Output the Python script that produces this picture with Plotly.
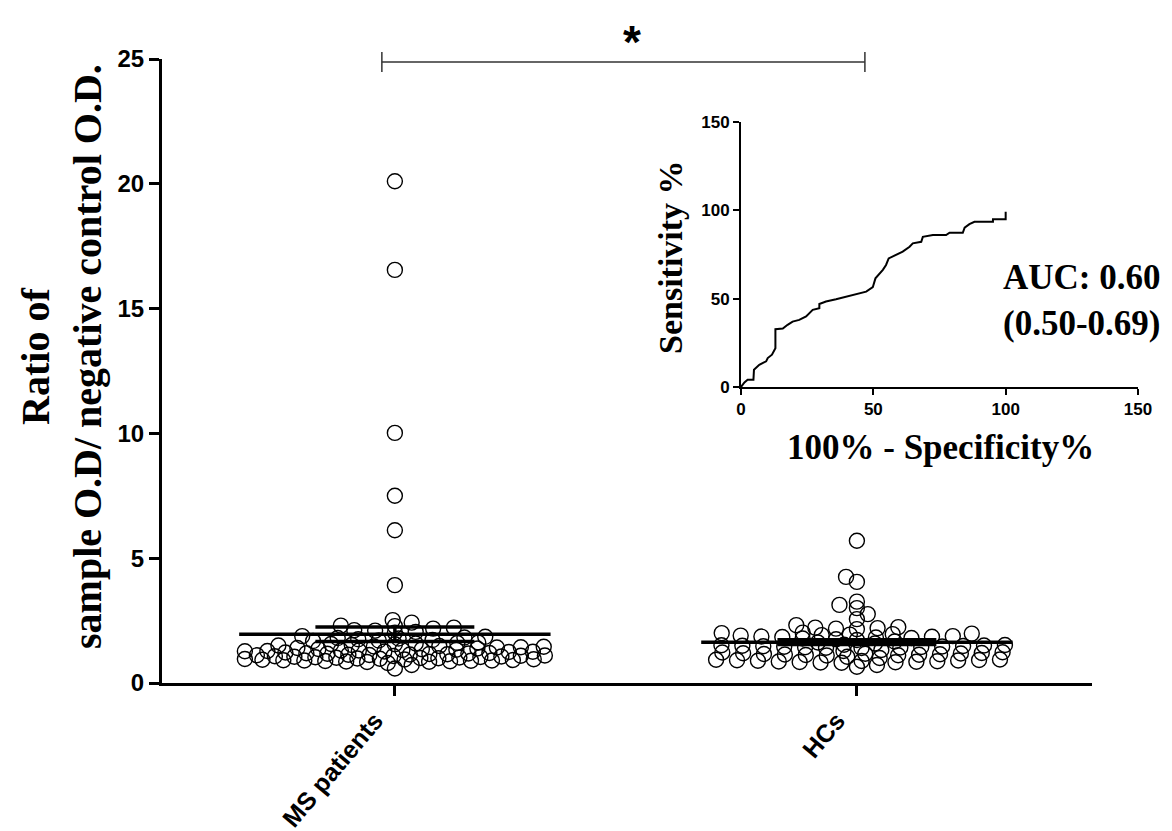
import numpy as np
import plotly.graph_objects as go

# ---------------- data ----------------
groups = ["MS patients", "HCs"]

ms_values = [20.1, 16.55, 10.02, 7.5, 6.12, 3.92, 2.52, 2.42,
             2.3, 2.28, 2.22, 2.18, 2.12, 2.1, 2.05, 2.02,
             1.88, 1.85, 1.82, 1.8, 1.78, 1.75, 1.72, 1.7, 1.68,
             1.62, 1.6, 1.58, 1.56, 1.55, 1.52, 1.5, 1.48, 1.46, 1.45, 1.43, 1.42, 1.4,
             1.38, 1.36, 1.35, 1.33, 1.32, 1.3, 1.3,
             1.28, 1.27, 1.26, 1.25, 1.24, 1.22, 1.2, 1.19, 1.18, 1.17, 1.16, 1.15,
             1.14, 1.13, 1.12, 1.11, 1.1, 1.09, 1.08, 1.07, 1.06, 1.05,
             1.04, 1.03, 1.02, 1.01, 1.0, 0.99, 0.98, 0.97, 0.96, 0.95, 0.94, 0.93,
             0.92, 0.91, 0.9, 0.9, 0.89, 0.88, 0.87, 0.86, 0.85, 0.84, 0.8, 0.72, 0.58]

hc_values = [5.7, 4.25, 4.05, 3.26, 3.13, 3.0, 2.76, 2.56, 2.32,
             2.24, 2.22, 2.2, 2.18, 2.16, 2.02, 2.0,
             1.98, 1.96, 1.94, 1.92, 1.9, 1.88, 1.86, 1.85, 1.84, 1.82,
             1.8, 1.78, 1.75, 1.72, 1.66, 1.62, 1.58,
             1.53, 1.52, 1.51, 1.5, 1.49, 1.48, 1.47, 1.46, 1.45, 1.44, 1.43, 1.42, 1.41, 1.4,
             1.32, 1.28, 1.22,
             1.23, 1.2, 1.19, 1.18, 1.17, 1.16, 1.15, 1.14, 1.13, 1.12, 1.11, 1.1,
             1.05, 1.0,
             0.94, 0.93, 0.92, 0.91, 0.9, 0.89, 0.88, 0.87, 0.86, 0.85, 0.84, 0.83, 0.82, 0.81,
             0.72, 0.65]

# ROC curve (100% - Specificity%, Sensitivity%)
roc_fpr = [0, 1.3, 2.5, 4.7, 4.9, 6.9, 9.5, 10.1, 11.7, 13.0, 13.0, 15.8, 17.6, 19.5, 22.0,
           24.6, 27.1, 29.6, 29.6, 32.1, 35.9, 39.7, 43.5, 47.3, 49.8, 50.8, 53.6, 54.8,
           55.8, 58.6, 61.1, 63.7, 64.9, 68.1, 68.7, 72.5, 77.5, 78.8, 83.8, 84.5, 86.3,
           88.2, 95.2, 95.2, 100, 100]
roc_tpr = [0, 2.6, 4.1, 4.1, 9.8, 12.6, 14.5, 16.4, 18.3, 22.0, 32.7, 33.1, 35.2, 37.0, 38.0,
           39.9, 43.7, 44.6, 47.0, 48.4, 49.7, 51.2, 52.7, 54.0, 56.5, 61.5, 66.3, 69.1,
           72.8, 74.7, 76.6, 79.4, 81.3, 82.2, 85.0, 86.0, 86.0, 87.3, 87.3, 90.2, 92.2,
           93.5, 93.5, 94.9, 94.9, 99.2]

auc_text = "AUC: 0.60<br>(0.50-0.69)"

# ---------------- layout geometry ----------------
W, H = 1172, 831
BODY = 8                      # page body margin offset
PL, PT = 162, 59              # plot-area left/top in screenshot pixels
PW, PH = 978, 624             # plot-area size
ML, MT = PL - BODY, PT - BODY
MR = W - ML - PW
MB = H - MT - PH
X_RANGE = [-0.504, 1.509]
Y_RANGE = [0, 25]
X_DOM = [0, 0.951]
PX_PER_X = X_DOM[1] * PW / (X_RANGE[1] - X_RANGE[0])
PX_PER_Y = PH / (Y_RANGE[1] - Y_RANGE[0])
Y0PX = PT + PH

SERIF = "Liberation Serif, Times New Roman, serif"
SANS = "Liberation Sans, Arial, sans-serif"

SWARM_D = 21.0     # horizontal separation of neighbours (px)
SWARM_K = 3.6      # vertical stretch in the collision metric
SWARM_MAX = 150.0  # maximum half-width of a column (px)


def px2paper(px, py):
    return (px - PL) / PW, (Y0PX - py) / PH


def swarm_offsets(vals, d=SWARM_D, xmax=SWARM_MAX):
    """Width-limited beeswarm layout (offsets in x data units) computed from the values."""
    vals = np.asarray(vals, float)
    order = np.argsort(vals, kind="stable")
    placed = []
    offs = np.zeros(len(vals))
    k = 0
    grid = np.arange(-xmax, xmax + 0.1, 1.5)
    for i in order:
        y = vals[i] * PX_PER_Y * SWARM_K
        cands = [0.0]
        forb = []
        for xj, yj in placed:
            dy = y - yj
            if abs(dy) < d:
                w = np.sqrt(d ** 2 - dy ** 2)
                forb.append((xj - w, xj + w))
                cands += [xj - w, xj + w]
        valid = [c for c in cands if abs(c) <= xmax and
                 all(not (a + 1e-7 < c < b - 1e-7) for a, b in forb)]
        sign = 1 if k % 2 == 0 else -1
        if valid:
            best = min(valid, key=lambda c: (round(abs(c), 4), -sign * c))
        else:
            # column is full: take the least crowded spot inside the limit
            pts = np.array(placed)
            dist = np.sqrt((grid[:, None] - pts[None, :, 0]) ** 2 + (y - pts[None, :, 1]) ** 2)
            best = float(grid[np.argmax(dist.min(axis=1))])
        if best != 0:
            k += 1
        offs[i] = best / PX_PER_X
        placed.append((best, y))
    return offs


def xpaper(xd):
    return X_DOM[0] + (xd - X_RANGE[0]) / (X_RANGE[1] - X_RANGE[0]) * (X_DOM[1] - X_DOM[0])


def ypaper(yd):
    return (yd - Y_RANGE[0]) / (Y_RANGE[1] - Y_RANGE[0])


fig = go.Figure()

MEAN_HALF = 0.337   # half width of mean line (x units)
SEM_HALF = 0.172    # half width of SEM caps

for gi, vals in enumerate([ms_values, hc_values]):
    offs = swarm_offsets(vals)
    fig.add_trace(go.Scatter(
        x=gi + offs, y=vals, mode="markers",
        marker=dict(symbol="circle-open", size=15, color="black", line=dict(width=1.4)),
        showlegend=False, hoverinfo="y", cliponaxis=False,
    ))
for gi, vals in enumerate([ms_values, hc_values]):
    v = np.asarray(vals)
    m = v.mean()
    sem = v.std(ddof=1) / np.sqrt(len(v))
    xs = [gi - MEAN_HALF, gi + MEAN_HALF, None,
          gi - SEM_HALF, gi + SEM_HALF, None,
          gi - SEM_HALF, gi + SEM_HALF, None,
          gi, gi]
    ys = [m, m, None, m + sem, m + sem, None, m - sem, m - sem, None, m - sem, m + sem]
    fig.add_trace(go.Scatter(x=xs, y=ys, mode="lines", line=dict(color="black", width=3.5),
                             showlegend=False, hoverinfo="skip"))

# ROC inset
fig.add_trace(go.Scatter(x=roc_fpr, y=roc_tpr, mode="lines", xaxis="x2", yaxis="y2",
                         line=dict(color="black", width=2), showlegend=False, cliponaxis=False))

# significance bracket (paper coords computed from group positions)
br_y = ypaper(24.88)
br_tick = 10 / PH
x_left = xpaper(0 - 13 / PX_PER_X)
x_right = xpaper(1 + 8 / PX_PER_X)
line_style = dict(color="#333333", width=1.5)
fig.add_shape(type="line", xref="paper", yref="paper", x0=x_left, x1=x_right, y0=br_y, y1=br_y, line=line_style)
fig.add_shape(type="line", xref="paper", yref="paper", x0=x_left, x1=x_left, y0=br_y - br_tick, y1=br_y + br_tick, line=line_style)
fig.add_shape(type="line", xref="paper", yref="paper", x0=x_right, x1=x_right, y0=br_y - br_tick, y1=br_y + br_tick, line=line_style)


def note(text, px, py, size, family, angle=0):
    ax, ay = px2paper(px, py)
    fig.add_annotation(text=text, xref="paper", yref="paper", x=ax, y=ay, textangle=angle,
                       showarrow=False, xanchor="center", yanchor="middle", align="center",
                       font=dict(family=family, size=size, color="black", weight="bold"))


note("*", 632, 42, 46, SANS)
note("Ratio of<br>sample O.D/ negative control O.D.", 61, 357, 40, SERIF, -90)
note("Sensitivity %", 670, 257, 34, SERIF, -90)
note("100% - Specificity%", 940, 447, 35, SERIF)
note(auc_text, 1081, 300, 35, SERIF)

axis_common = dict(showgrid=False, zeroline=False, showline=True, linecolor="black",
                   ticks="outside", tickcolor="black")

fig.update_layout(
    width=W, height=H, margin=dict(l=ML, r=MR, t=MT, b=MB, autoexpand=False),
    paper_bgcolor="white", plot_bgcolor="rgba(0,0,0,0)",
    xaxis=dict(**axis_common, domain=X_DOM, range=X_RANGE, tickvals=[0, 1], ticktext=groups,
               tickangle=-50, linewidth=3, ticklen=10, tickwidth=2.5, automargin=False,
               ticklabelshift=-20,
               tickfont=dict(family=SANS, size=25, color="black", weight="bold")),
    yaxis=dict(**axis_common, domain=[0, 1], range=Y_RANGE, dtick=5, linewidth=3, ticklen=10,
               tickwidth=2.5, automargin=False,
               tickfont=dict(family=SANS, size=24, color="black", weight="bold")),
    xaxis2=dict(**axis_common, domain=[(741 - PL) / PW, (1138 - PL) / PW], range=[0, 150], dtick=50,
                anchor="y2", linewidth=2, ticklen=6, tickwidth=2,
                tickfont=dict(family=SANS, size=17, color="black", weight="bold")),
    yaxis2=dict(**axis_common, domain=[(Y0PX - 387) / PH, (Y0PX - 122) / PH], range=[0, 150],
                dtick=50, anchor="x2", linewidth=2, ticklen=6, tickwidth=2,
                tickfont=dict(family=SANS, size=17, color="black", weight="bold")),
)

fig.write_html("out.html")
